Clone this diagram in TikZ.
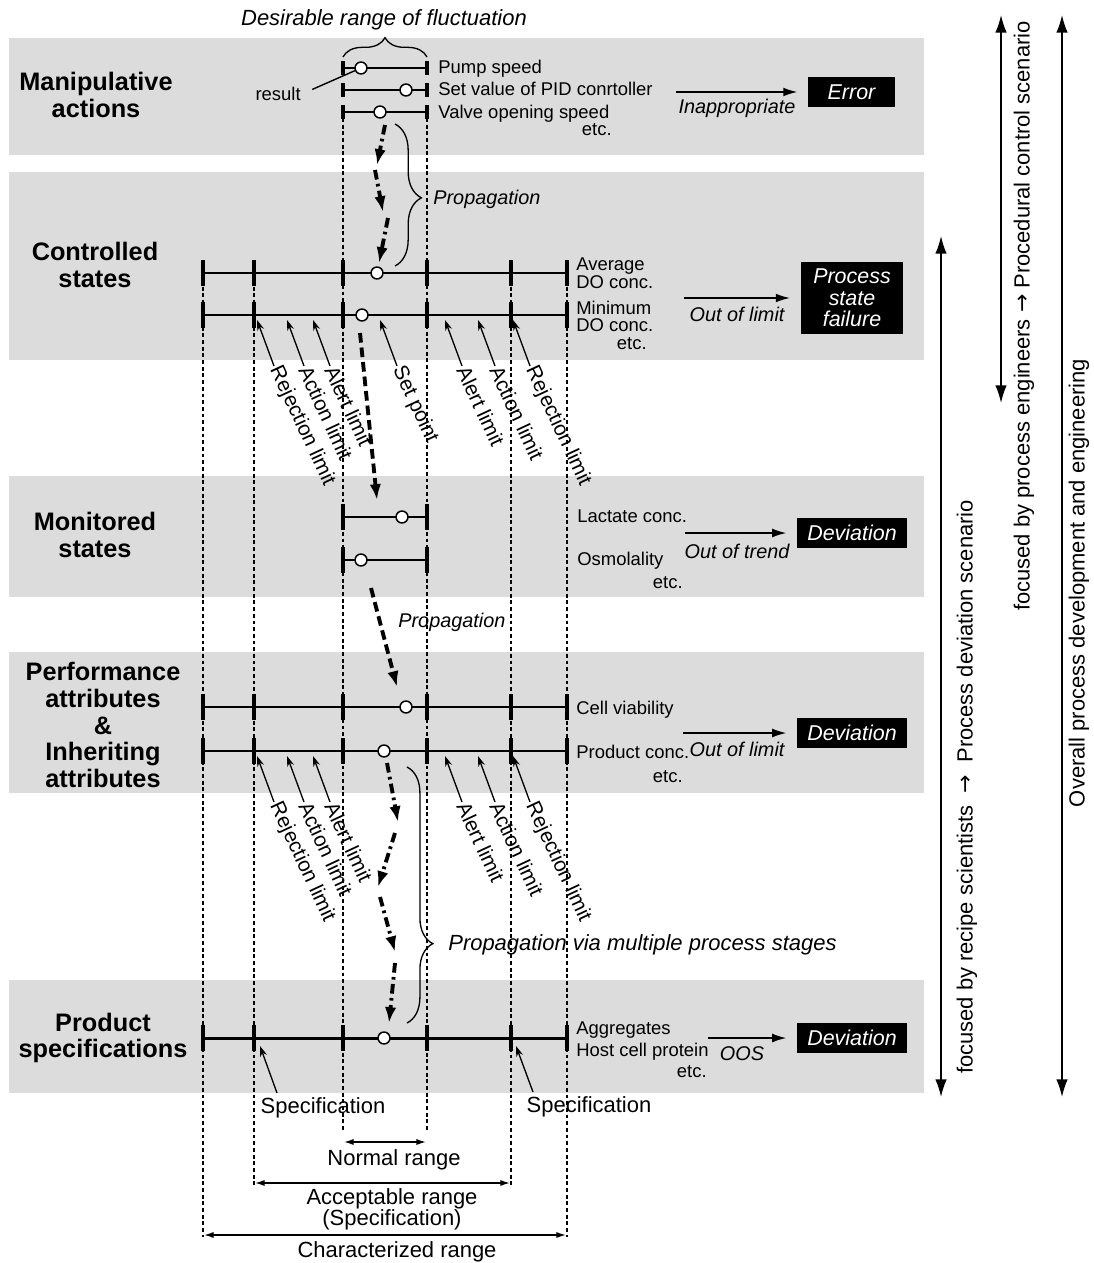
\documentclass[tikz,border=0pt]{standalone}
\usepackage{fontspec}
\setmainfont{Liberation Sans}
\newfontfamily\arrowfont{DejaVu Sans}
\usetikzlibrary{arrows.meta,decorations.pathreplacing}
\definecolor{bandgray}{RGB}{220,220,220}
\newcommand\toarrow{{\arrowfont →}}
\tikzset{
  band/.style={fill=bandgray},
  guide/.style={line width=0.75pt, dash pattern=on 2.2pt off 1.6pt},
  bar/.style={line width=1.7pt},
  barend/.style={line width=2.3pt},
  val/.style={circle, draw, fill=white, line width=0.85pt, inner sep=0pt, minimum size=6.8pt},
  item/.style={font=\fontsize{10.5}{12}\selectfont, inner sep=0pt},
  stage/.style={font=\fontsize{14.4}{15.3}\selectfont\bfseries, align=center, inner sep=0pt},
  remark/.style={font=\fontsize{11.3}{13}\selectfont\itshape, inner sep=0pt},
  heading/.style={font=\fontsize{12.5}{14}\selectfont\itshape, inner sep=0pt},
  outcome/.style={fill=black, text=white, font=\fontsize{12.2}{12.2}\selectfont\itshape, align=center, inner sep=0pt},
  limarrow/.style={line width=0.75pt, -{Stealth[length=6pt,width=4pt]}},
  limtext/.style={font=\fontsize{11.8}{13}\selectfont, rotate=-65, anchor=west, inner sep=0.8pt},
  flow/.style={line width=2.2pt, dash pattern=on 5.5pt off 2.5pt on 1.5pt off 2.5pt, -{Latex[length=9pt,width=6.5pt]}},
  flowdash/.style={line width=2.2pt, dash pattern=on 5.5pt off 2.8pt, -{Latex[length=9pt,width=6.5pt]}},
  trigger/.style={line width=0.8pt, -{Latex[length=8pt,width=5pt]}, shorten >=6pt},
  spanarrow/.style={line width=0.8pt, {Latex[length=5.5pt,width=3.5pt]}-{Latex[length=5.5pt,width=3.5pt]}},
  rangetext/.style={font=\fontsize{12.5}{12.5}\selectfont, inner sep=0pt},
  scopearrow/.style={line width=0.9pt, {Latex[length=10pt,width=6.5pt]}-{Latex[length=10pt,width=6.5pt]}},
  scopetext/.style={font=\fontsize{12.5}{14}\selectfont, rotate=90, inner sep=0pt},
  bracket/.style={line width=0.75pt, decorate},
}
\begin{document}
\begin{tikzpicture}[x=0.02cm,y=-0.02cm]
\useasboundingbox (0,0) rectangle (1094,1263);
\fill[white] (0,0) rectangle (1094,1263);

% grey bands of the five levels
\foreach \a/\b in {38/155,172/360,476/597,652/793,980/1093}
  \fill[band] (9,\a) rectangle (924,\b);

% dashed guide lines of the limits
\foreach \x/\a/\b in {343/118/1130,427/118/1130,254/260/1185,511/260/1185,203/260/1237,567/260/1237}
  \draw[guide] (\x,\a) -- (\x,\b);

% short scales (normal range only)
\foreach \y/\h in {68/7,90/7,112/7,517/13,560/13}{
  \draw[bar] (343,\y) -- (427,\y);
  \foreach \x in {343,427} \draw[barend] (\x,\y-\h) -- (\x,\y+\h);
}
% full scales
\foreach \y in {273,315,707,751,1038}{
  \draw[bar] (203,\y) -- (567,\y);
  \foreach \x in {203,254,343,427,511,567} \draw[barend] (\x,\y-13) -- (\x,\y+13);
}

% level names
\node[stage] (manip) at (96,95) {Manipulative\\actions};
\node[stage] (ctrl) at (95,265) {Controlled\\states};
\node[stage] (mon) at (95,535) {Monitored\\states};
\node[stage] (perf) at (103,725) {Performance\\attributes\\\&\\Inheriting\\attributes};
\node[stage] (prod) at (103,1038) {Product\\specifications};

% manipulative actions
\node[heading, anchor=base] (desire) at (384,26) {Desirable range of fluctuation};
\draw[bracket, decoration={brace, amplitude=11pt}] (343,57) -- (427,57);
\node[item, anchor=base west] (pump) at (438,74) {Pump speed};
\node[item, anchor=base west] (pid) at (438,96) {Set value of PID conrtoller};
\node[item, anchor=base west] (valve) at (438,119) {Valve opening speed};
\node[item, anchor=base east] (etc1) at (612,136) {etc.};
\node[item, anchor=base east] (res) at (301,101) {result};
\node[val] (v1) at (361,68) {};
\node[val] (v2) at (406,90) {};
\node[val] (v3) at (380,112) {};
\draw[line width=0.8pt, shorten <=7pt] (res.east) -- (v1);
\node[outcome, minimum width=49.3pt, minimum height=17.6pt] (err) at (851.5,92) {Error};
\coordinate (trA) at (676,92);
\draw[trigger] (trA) -- (err);
\node[remark, anchor=base] (inap) at (737,114) {Inappropriate};

% propagation into the controlled states
\coordinate (a0) at (385,125); \coordinate (a1) at (377,165);
\coordinate (a2) at (375,170); \coordinate (a3) at (383,212);
\coordinate (a4) at (388,218); \coordinate (a5) at (379,263);
\draw[flow] (a0) -- (a1);
\draw[flow] (a2) -- (a3);
\draw[flow] (a4) -- (a5);
\draw[bracket, decoration={brace, amplitude=15pt, aspect=0.52}] (395,124) -- (395,266);
\node[remark, anchor=base west] (prop1) at (433,205) {Propagation};

% controlled states
\node[val] (avg) at (377,273) {};
\node[val] (mindo) at (362,315) {};
\node[item, anchor=base west] (avgA) at (576,271) {Average};
\node[item, anchor=base west] (avgB) at (576,289) {DO conc.};
\node[item, anchor=base west] (minA) at (576,315) {Minimum};
\node[item, anchor=base west] (minB) at (576,332) {DO conc.};
\node[item, anchor=base east] (etc2) at (647,350) {etc.};
\node[outcome, minimum width=58.4pt, minimum height=41pt] (fail) at (852,298) {Process\\state\\failure};
\coordinate (trB) at (684,298);
\draw[trigger] (trB) -- (fail);
\node[remark, anchor=base] (ool1) at (737,322) {Out of limit};
\foreach \x/\t [count=\i] in {257/Rejection limit,287/Action limit,313/Alert limit,380/Set point,445/Alert limit,478/Action limit,513/Rejection limit}{
  \node[limtext] (climit\i) at (\x+17,366) {\t};
  \draw[limarrow] (climit\i.west) -- (\x,320);
}

% propagation into the monitored states
\coordinate (m0) at (360,333); \coordinate (m1) at (377,500);
\draw[flowdash] (m0) -- (m1);

% monitored states
\node[val] (lact) at (402,517) {};
\node[val] (osmo) at (361,560) {};
\node[item, anchor=base west] (lactT) at (577,522) {Lactate conc.};
\node[item, anchor=base west] (osmoT) at (577,565) {Osmolality};
\node[item, anchor=base east] (etc3) at (683,588) {etc.};
\node[outcome, minimum width=62.4pt, minimum height=17pt] (dev1) at (852,533) {Deviation};
\coordinate (trC) at (685,533);
\draw[trigger] (trC) -- (dev1);
\node[remark, anchor=base] (oot) at (737,558) {Out of trend};

% propagation into the attributes
\coordinate (p0) at (371,588); \coordinate (p1) at (397,687);
\draw[flowdash] (p0) -- (p1);
\node[remark, anchor=base west] (prop2) at (398,627) {Propagation};

% performance and inheriting attributes
\node[val] (via) at (406,707) {};
\node[val] (pconc) at (384,751) {};
\node[item, anchor=base west] (viaT) at (576,714) {Cell viability};
\node[item, anchor=base west] (pconcT) at (576,758) {Product conc.};
\node[item, anchor=base east] (etc4) at (683,782) {etc.};
\node[outcome, minimum width=62.4pt, minimum height=17pt] (dev2) at (852,733) {Deviation};
\coordinate (trD) at (683,733);
\draw[trigger] (trD) -- (dev2);
\node[remark, anchor=base] (ool2) at (737,756) {Out of limit};
\foreach \x/\t [count=\i] in {257/Rejection limit,287/Action limit,313/Alert limit,445/Alert limit,478/Action limit,513/Rejection limit}{
  \node[limtext] (plimit\i) at (\x+17,802) {\t};
  \draw[limarrow] (plimit\i.west) -- (\x,756);
}

% propagation via several process stages
\coordinate (b0) at (387,763); \coordinate (b1) at (398,822);
\coordinate (b2) at (395,833); \coordinate (b3) at (378,887);
\coordinate (b4) at (380,897); \coordinate (b5) at (395,952);
\coordinate (b6) at (395,963); \coordinate (b7) at (389,1023);
\draw[flow] (b0) -- (b1);
\draw[flow] (b2) -- (b3);
\draw[flow] (b4) -- (b5);
\draw[flow] (b6) -- (b7);
\draw[bracket, decoration={brace, amplitude=14.7pt, aspect=0.69}] (407,767) -- (407,1023);
\node[heading, anchor=base west] (prop3) at (448,950) {Propagation via multiple process stages};

% product specifications
\node[val] (agg) at (384,1038) {};
\node[item, anchor=base west] (aggT) at (576,1034) {Aggregates};
\node[item, anchor=base west] (hcpT) at (576,1056) {Host cell protein};
\node[item, anchor=base east] (etc5) at (707,1077) {etc.};
\node[outcome, minimum width=62.4pt, minimum height=17pt] (dev3) at (852,1038) {Deviation};
\coordinate (trE) at (708,1038);
\draw[trigger] (trE) -- (dev3);
\node[remark, anchor=base] (oos) at (742,1060) {OOS};
\node[rangetext, anchor=base] (specL) at (323,1113) {Specification};
\node[rangetext, anchor=base] (specR) at (589,1112) {Specification};
\coordinate (spL) at (277,1093); \coordinate (spR) at (533,1092);
\draw[limarrow] (spL) -- (260,1046);
\draw[limarrow] (spR) -- (516,1046);

% ranges
\coordinate (nl) at (344,1142); \coordinate (nr) at (426,1142);
\coordinate (al) at (255,1183); \coordinate (ar) at (510,1183);
\coordinate (cl) at (204,1235); \coordinate (cr) at (566,1235);
\draw[spanarrow] (nl) -- (nr);
\draw[spanarrow] (al) -- (ar);
\draw[spanarrow] (cl) -- (cr);
\node[rangetext, anchor=base] (normal) at (394,1165) {Normal range};
\node[rangetext, anchor=base] (accept) at (392,1204) {Acceptable range};
\node[rangetext, anchor=base] (acceptB) at (392,1225) {(Specification)};
\node[rangetext, anchor=base] (charac) at (397,1257) {Characterized range};

% scopes of the scenarios
\coordinate (s1a) at (941,236); \coordinate (s1b) at (941,1097);
\coordinate (s2a) at (1001,15); \coordinate (s2b) at (1001,403);
\coordinate (s3a) at (1062,15); \coordinate (s3b) at (1062,1097);
\draw[scopearrow] (s1a) -- (s1b);
\draw[scopearrow] (s2a) -- (s2b);
\draw[scopearrow] (s3a) -- (s3b);
\node[scopetext] (sc1) at (967,787) {focused by recipe scientists ~\toarrow~ Process deviation scenario};
\node[scopetext] (sc2) at (1024,316) {focused by process engineers \toarrow{} Procedural control scenario};
\node[scopetext] (sc3) at (1079,583) {Overall process development and engineering};
\end{tikzpicture}
\end{document}
